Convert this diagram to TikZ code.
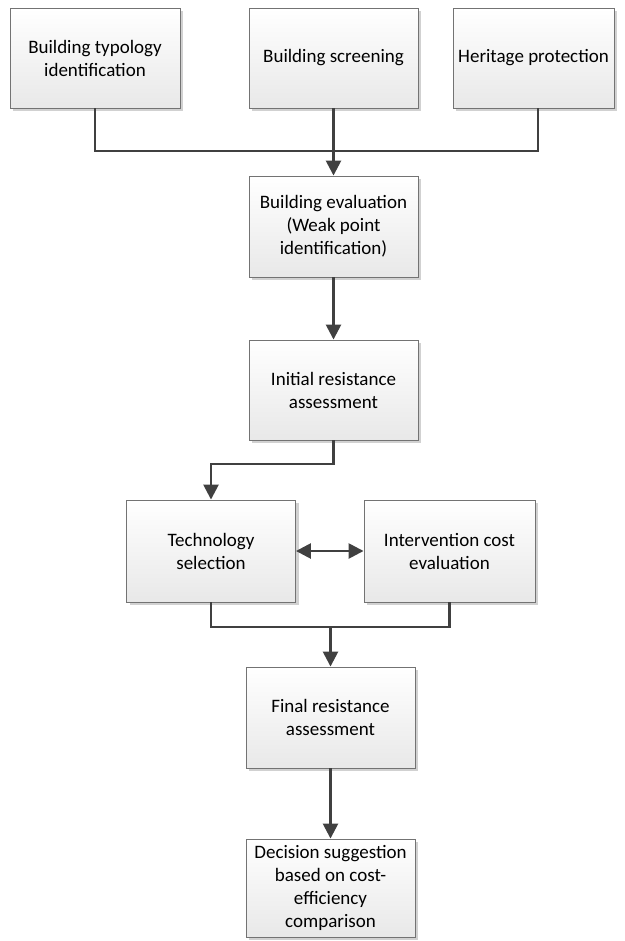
\documentclass[tikz,border=0pt]{standalone}
\usepackage{fontspec}
\setmainfont{Carlito}
\usetikzlibrary{arrows.meta,shadows}
\begin{document}
\begin{tikzpicture}[x=1pt,y=-1pt,
  box/.style={draw=black!55, line width=0.9pt, top color=white, bottom color=black!9,
    minimum width=169pt, minimum height=100pt, align=center, inner sep=0pt,
    font=\fontsize{19}{23}\selectfont,
    drop shadow={shadow xshift=3pt, shadow yshift=-3pt, fill=black!18, opacity=1}},
  conn/.style={draw=black!75, line width=2.6pt},
  tip/.tip={Triangle[length=15pt,width=15pt]},
  arr/.style={conn, -tip}]
\useasboundingbox (0,0) rectangle (624,941);
\node[box, minimum width=170pt] (t1) at (95,58) {Building typology\\identification};
\node[box] (t2) at (333.5,58) {Building screening};
\node[box, minimum width=161pt] (t3) at (533.5,58) {Heritage protection};
\node[box, minimum height=101pt] (e) at (333.5,226.5) {Building evaluation\\(Weak point\\identification)};
\node[box] (i) at (333.5,390) {Initial resistance\\assessment};
\node[box, minimum height=102pt] (ts) at (211,551) {Technology\\selection};
\node[box, minimum width=171pt, minimum height=102pt] (ic) at (449.5,551) {Intervention cost\\evaluation};
\node[box, minimum height=101pt] (f) at (330.5,717.5) {Final resistance\\assessment};
\node[box, minimum height=98pt] (d) at (330.5,888) {Decision suggestion\\based on cost-\\efficiency\\comparison};
\coordinate (j1) at (333.5,151);
\coordinate (j2) at (333.5,464);
\coordinate (j3) at (330.5,627);
\draw[conn] (t1.south) |- (j1) -| ([xshift=4.5pt]t3.south);
\draw[arr] (t2.south) -- (e.north);
\draw[arr] (e.south) -- (i.north);
\draw[arr] (i.south) -- (j2) -| (ts.north);
\draw[conn, tip-tip] (ts.east) -- (ic.west);
\draw[conn] (ts.south) |- (j3) -| (ic.south);
\draw[arr] (j3) -- (f.north);
\draw[arr] (f.south) -- (d.north);
\end{tikzpicture}
\end{document}
